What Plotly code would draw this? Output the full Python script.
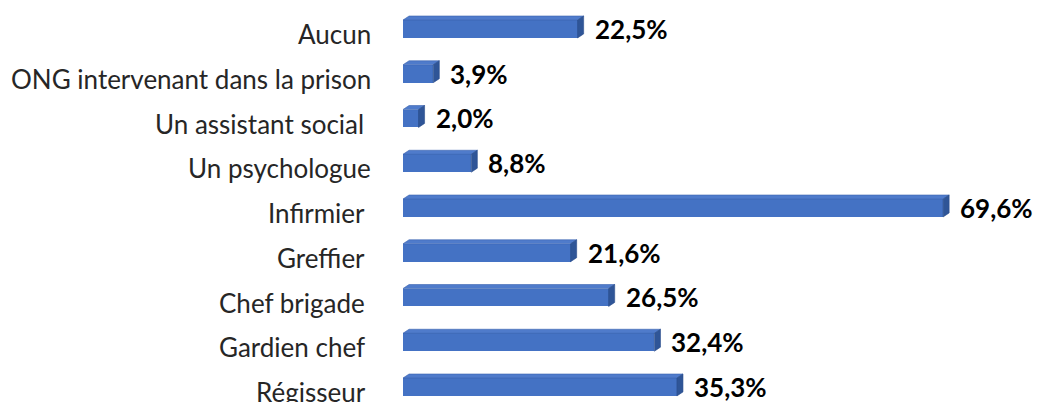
import plotly.graph_objects as go

# Categories listed top to bottom, with their shares (%)
categories = [
    "Aucun",
    "ONG intervenant dans la prison",
    "Un assistant social ",
    "Un psychologue",
    "Infirmier ",
    "Greffier ",
    "Chef brigade ",
    "Gardien chef ",
    "Régisseur ",
]
values = [22.5, 3.9, 2.0, 8.8, 69.6, 21.6, 26.5, 32.4, 35.3]

FRONT = "#4472C4"
TOP = "#4F7BCB"
SIDE = "#2F5597"

n = len(categories)
pos = [n - 1 - i for i in range(n)]          # first category at the top
labels = [c.replace(" ", "\u00a0") if c.endswith(" ") else c for c in categories]
value_text = [f"{v:.1f}".replace(".", ",") + "%" for v in values]

bar_w = 0.40      # front-face thickness (axis units)
lift = 0.112      # bar centre sits slightly above the category label
off = lift - bar_w / 2
dx = 0.78         # depth along x (percent units)
dy = 0.09         # depth along y (axis units)

fig = go.Figure()
fig.add_trace(go.Bar(
    x=values, y=pos, orientation="h",
    width=bar_w, offset=off,
    marker=dict(color=FRONT, line=dict(width=0)),
    hoverinfo="skip", showlegend=False,
))

shapes = []
annotations = []
for p, v, t, lab in zip(pos, values, value_text, labels):
    yb = p + off
    yt = yb + bar_w
    # top face
    shapes.append(dict(
        type="path", xref="x", yref="y", layer="above",
        path=f"M 0 {yt} L {dx} {yt + dy} L {v + dx} {yt + dy} L {v} {yt} Z",
        fillcolor=TOP, line=dict(color="#3A63AE", width=0.6),
    ))
    # right side face
    shapes.append(dict(
        type="path", xref="x", yref="y", layer="above",
        path=f"M {v} {yb} L {v} {yt} L {v + dx} {yt + dy} L {v + dx} {yb + dy} Z",
        fillcolor=SIDE, line=dict(color="#2A4D8C", width=0.6),
    ))
    # value label
    annotations.append(dict(
        x=v, y=p + lift, xref="x", yref="y", text=t, showarrow=False,
        xanchor="left", yanchor="middle", xshift=15,
        font=dict(family="Lato", size=26, color="#000000", weight="bold"),
    ))
    # category label
    annotations.append(dict(
        x=0, y=p, xref="paper", yref="y", text=lab, showarrow=False,
        xanchor="right", yanchor="middle", xshift=-30,
        font=dict(family="Lato", size=26, color="#262626"),
    ))

px_per_unit = 44.75
ymin = -10 / px_per_unit
ymax = ymin + 402 / px_per_unit

fig.update_layout(
    width=1037, height=402,
    margin=dict(l=403, r=0, t=0, b=0),
    paper_bgcolor="white", plot_bgcolor="white",
    shapes=shapes, annotations=annotations,
    xaxis=dict(range=[0, 634 / 7.76], visible=False, fixedrange=True),
    yaxis=dict(range=[ymin, ymax], visible=False, fixedrange=True),
    bargap=0,
)

fig.write_html("out.html", config={"displayModeBar": False})
